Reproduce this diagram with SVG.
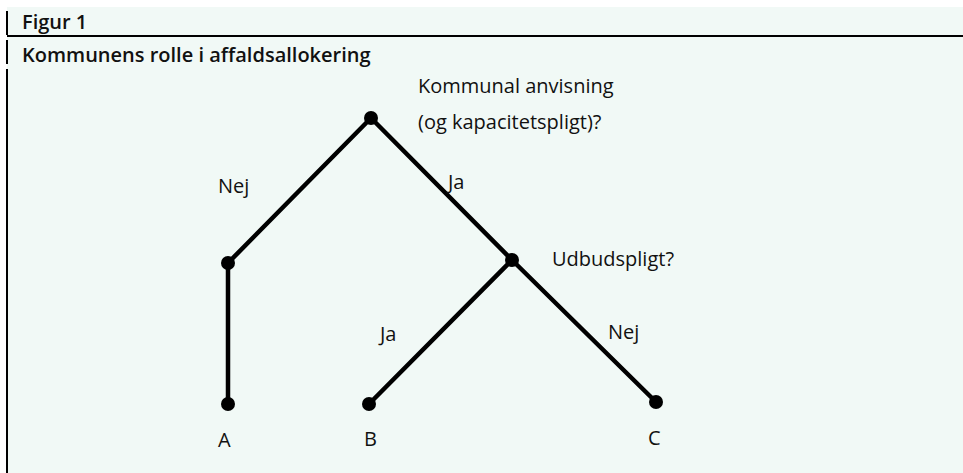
<svg xmlns="http://www.w3.org/2000/svg" width="963" height="473" viewBox="0 0 963 473">
<style>
.t{font-family:"Open Sans","Noto Sans",sans-serif;font-size:20px;font-weight:500;fill:#111;}
.h{font-family:"Open Sans","Noto Sans",sans-serif;font-size:20px;font-weight:600;fill:#111;}
.e{stroke:#000;stroke-width:4.5;stroke-linecap:round;fill:none;}
.n{fill:#000;}
.b{stroke:#000;stroke-width:2;fill:none;}
</style>
<rect x="0" y="0" width="963" height="473" fill="#fff"/>
<rect x="7" y="7" width="956" height="466" fill="#f1f9f6"/>
<g id="frame">
<line class="b" x1="7" y1="11" x2="7" y2="35"/>
<line class="b" x1="7" y1="40" x2="7" y2="64"/>
<line class="b" x1="7" y1="69" x2="7" y2="473"/>
<line class="b" x1="7" y1="36" x2="963" y2="36"/>
<text class="h" x="22" y="29">Figur 1</text>
<text class="h" x="22" y="62">Kommunens rolle i affaldsallokering</text>
</g>
<g id="connectors">
<line class="e" x1="371" y1="118" x2="228" y2="263"/>
<line class="e" x1="371" y1="118" x2="512" y2="260"/>
<line class="e" x1="228" y1="263" x2="228" y2="404"/>
<line class="e" x1="512" y1="260" x2="369" y2="404"/>
<line class="e" x1="512" y1="260" x2="656" y2="402"/>
<text class="t" x="218" y="193">Nej</text>
<text class="t" x="448" y="189">Ja</text>
<text class="t" x="380" y="341">Ja</text>
<text class="t" x="608" y="339">Nej</text>
</g>
<g id="root"><circle class="n" cx="371" cy="118" r="7"/>
<text class="t" x="418" y="93">Kommunal anvisning</text>
<text class="t" x="418" y="129">(og kapacitetspligt)?</text></g>
<g id="left"><circle class="n" cx="228" cy="263" r="7"/></g>
<g id="right"><circle class="n" cx="512" cy="260" r="7"/>
<text class="t" x="552" y="266">Udbudspligt?</text></g>
<g id="A"><circle class="n" cx="228" cy="404" r="7"/><text class="t" x="218" y="447">A</text></g>
<g id="B"><circle class="n" cx="369" cy="404" r="7"/><text class="t" x="364" y="446">B</text></g>
<g id="C"><circle class="n" cx="656" cy="402" r="7"/><text class="t" x="648" y="445">C</text></g>
</svg>
